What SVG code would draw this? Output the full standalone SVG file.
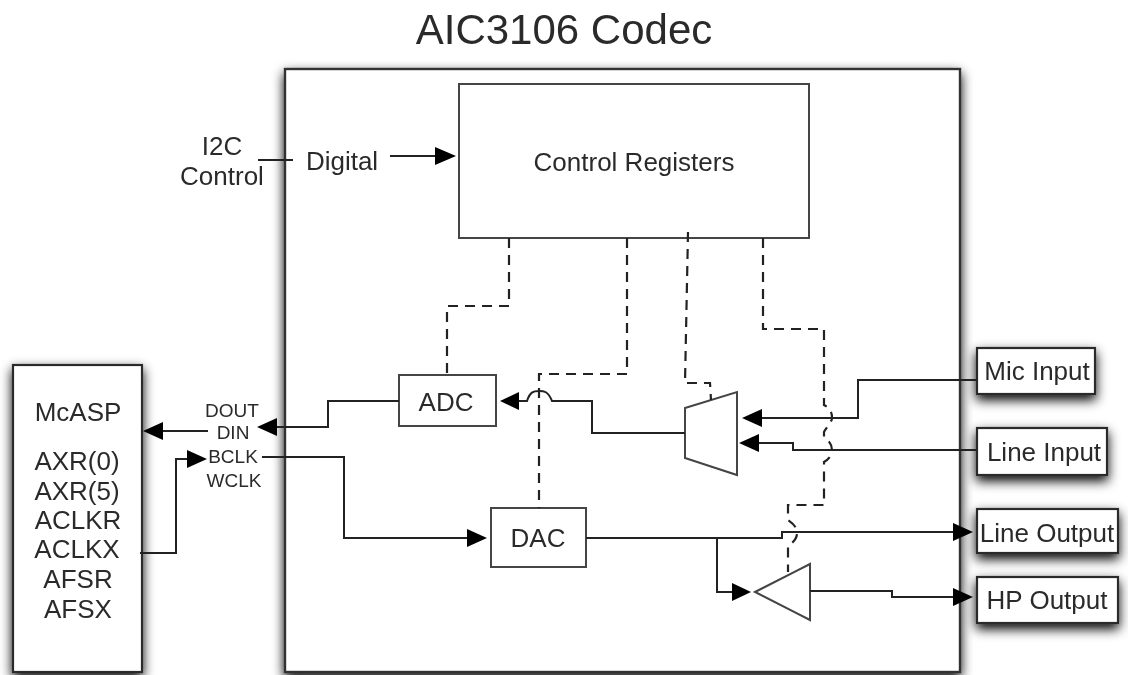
<svg xmlns="http://www.w3.org/2000/svg" width="1128" height="675" viewBox="0 0 1128 675">
<style>
text{font-family:"Liberation Sans",Arial,sans-serif;fill:#2b2b2b;font-size:26px;text-anchor:middle}
.box{fill:#fff;stroke:#444;stroke-width:2}
.outer{fill:#fff;stroke:#333;stroke-width:2.4;filter:url(#sh)}
.ext{fill:#fff;stroke:#2c2c2c;stroke-width:2.2;filter:url(#sh)}
.w{fill:none;stroke:#222;stroke-width:2}
.d{fill:none;stroke:#222;stroke-width:2.2;stroke-dasharray:10 7}
.a{fill:#000;stroke:none}
.sm{font-size:19px}
</style>
<defs>
<filter id="sh" x="-60%" y="-80%" width="220%" height="260%"><feDropShadow dx="0" dy="5" stdDeviation="6" flood-color="#000" flood-opacity="1"/></filter>
<filter id="soft" filterUnits="userSpaceOnUse" x="0" y="0" width="1128" height="675"><feGaussianBlur stdDeviation="0.7"/></filter>
</defs>
<rect width="1128" height="675" fill="#fff"/>
<g filter="url(#soft)">
<text x="564" y="44" style="font-size:42px">AIC3106 Codec</text>
<g id="codec"><rect class="outer" x="285" y="69" width="675" height="603"/></g>
<g id="mcasp"><rect class="ext" x="13" y="365" width="129" height="307"/>
<text x="78" y="421">McASP</text><text x="77" y="470">AXR(0)</text><text x="77" y="500">AXR(5)</text><text x="78" y="529">ACLKR</text><text x="77" y="558">ACLKX</text><text x="78" y="588">AFSR</text><text x="78" y="618">AFSX</text></g>
<g id="control-registers"><rect class="box" x="459" y="84" width="350" height="154"/><text x="634" y="171">Control Registers</text></g>
<g id="adc"><rect class="box" x="399" y="375" width="97" height="51"/><text x="446" y="411">ADC</text></g>
<g id="dac"><rect class="box" x="491" y="508" width="95" height="59"/><text x="538" y="547">DAC</text></g>
<g id="mux"><polygon class="box" points="685,408 737,392 737,475 685,458"/></g>
<g id="amp"><polygon class="box" points="755,592 810,564 810,620"/></g>
<g id="mic-input"><rect class="ext" x="977" y="348" width="118" height="46"/><text x="1037" y="380">Mic Input</text></g>
<g id="line-input"><rect class="ext" x="977" y="428" width="130" height="47"/><text x="1044" y="461">Line Input</text></g>
<g id="line-output"><rect class="ext" x="977" y="509" width="141" height="44"/><text x="1047" y="542">Line Output</text></g>
<g id="hp-output"><rect class="ext" x="977" y="577" width="141" height="46"/><text x="1047" y="609">HP Output</text></g>
<g id="labels">
<text x="222" y="155">I2C</text><text x="222" y="185">Control</text><text x="342" y="170">Digital</text>
<text class="sm" x="232" y="417">DOUT</text><text class="sm" x="233" y="439">DIN</text><text class="sm" x="233" y="463">BCLK</text><text class="sm" x="234" y="487">WCLK</text>
</g>
<g id="connectors">
<path class="w" d="M258 160H293M390 156H440"/>
<path class="w" d="M399 401H328V427H272"/>
<path class="w" d="M208 431H160"/>
<path class="w" d="M140 553H176V459H190"/>
<path class="w" d="M262 457H344V538H470"/>
<path class="w" d="M685 433H592V401H552C548 391 544 391 539 391C533 391 530 392 527 401H518"/>
<path class="w" d="M977 380H858V418H760"/>
<path class="w" d="M977 450H793V443H758"/>
<path class="w" d="M586 538H782V532H956"/>
<path class="w" d="M717 538V592H735"/>
<path class="w" d="M810 591H892V597H956"/>
<path class="d" d="M509 238V306H447V375"/>
<path class="d" d="M627 238V374H539V508"/>
<path class="d" d="M688 232L685 383H710L711 400"/>
<path class="d" d="M763 238V329H824V405C830 408 832 412 832 418C832 422 826 428 824 432V437C830 441 832 446 832 450C832 456 828 460 824 462V505H788V520C794 524 797 528 797 533C797 538 794 542 788 546V572"/>
<polygon class="a" points="456,156 435,147 435,165"/>
<polygon class="a" points="257,427 277,418 277,436"/>
<polygon class="a" points="143,431 163,422 163,440"/>
<polygon class="a" points="207,459 187,450 187,468"/>
<polygon class="a" points="487,538 467,529 467,547"/>
<polygon class="a" points="500,401 519,392 519,410"/>
<polygon class="a" points="742,418 762,409 762,427"/>
<polygon class="a" points="739,443 759,434 759,452"/>
<polygon class="a" points="973,532 953,523 953,541"/>
<polygon class="a" points="973,597 953,588 953,606"/>
<polygon class="a" points="751,592 732,583 732,601"/>
</g>
</g>
</svg>
